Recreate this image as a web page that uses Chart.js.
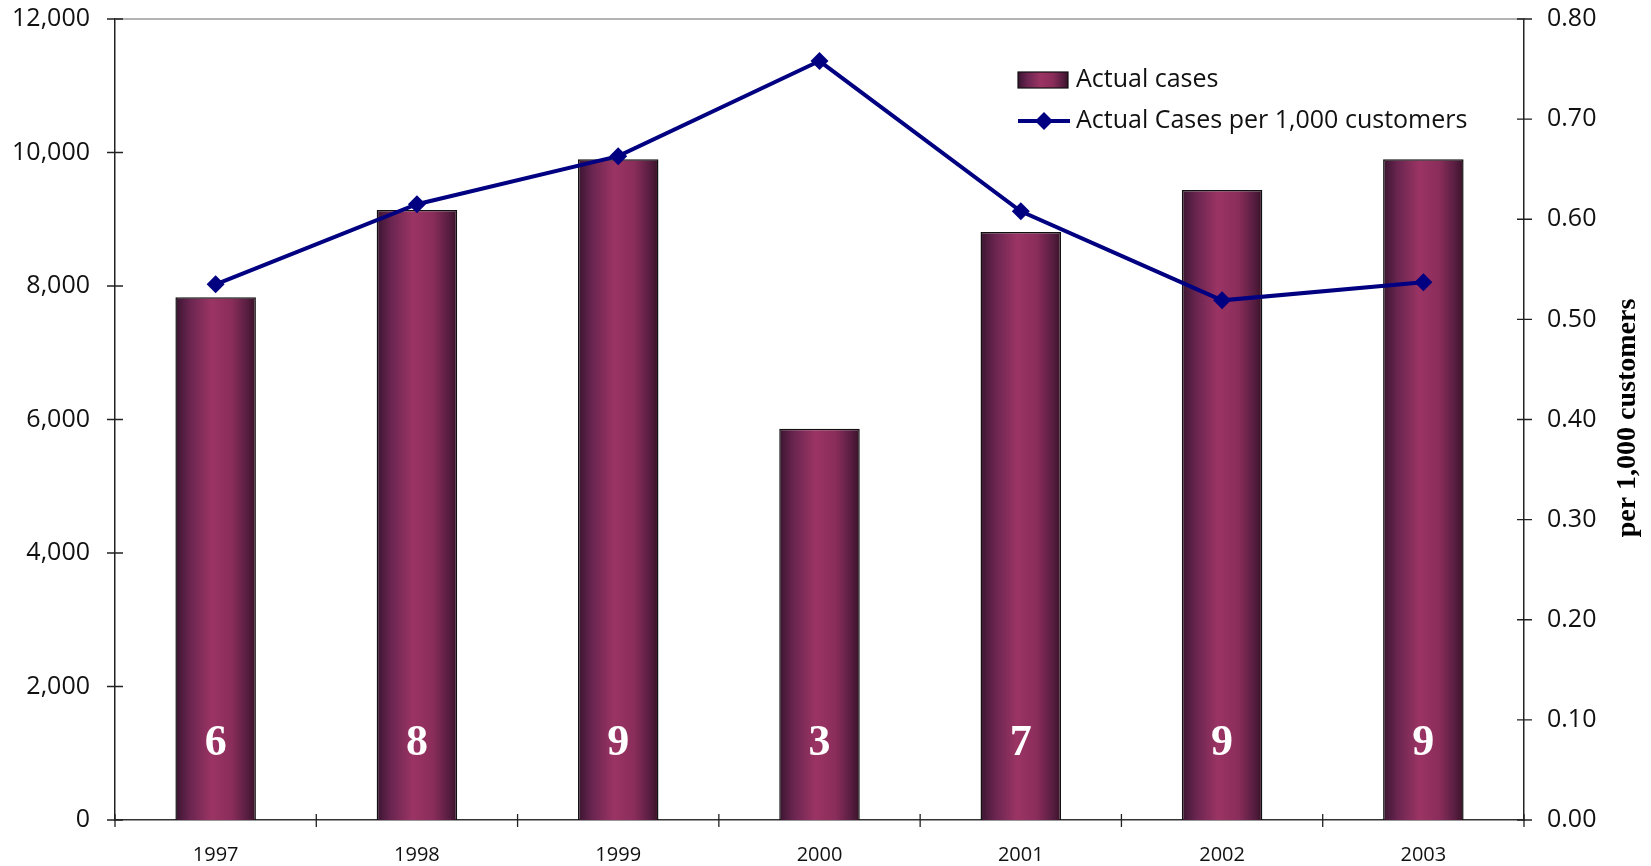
<!DOCTYPE html>
<html>
<head>
<meta charset="utf-8">
<style>
  html, body { margin: 0; padding: 0; background: #ffffff; }
  #wrap { position: relative; width: 1651px; height: 866px; }
  canvas { display: block; }
</style>
<script src="https://cdn.jsdelivr.net/npm/chart.js@4.4.0/dist/chart.umd.min.js"></script>
</head>
<body>
<div id="wrap"><canvas id="c" width="1651" height="866"></canvas></div>
<script>
const years = ['1997', '1998', '1999', '2000', '2001', '2002', '2003'];
const actualCases = [7830, 9140, 9900, 5860, 8810, 9440, 9900];
const casesPer1000 = [0.535, 0.615, 0.663, 0.758, 0.608, 0.519, 0.537];
const barLabels = ['6', '8', '9', '3', '7', '9', '9'];
const leftTicks = [0, 2000, 4000, 6000, 8000, 10000, 12000];
const rightTicks = [0, 0.1, 0.2, 0.3, 0.4, 0.5, 0.6, 0.7, 0.8];
const legendLabels = ['Actual cases', 'Actual Cases per 1,000 customers'];
const rightTitle = 'per 1,000 customers';

const SANS = '"Open Sans", "Noto Sans", sans-serif';
const SERIF = '"Liberation Serif", "DejaVu Serif", serif';
const BAR_PCT = 0.4;

function barGradient(ctx, x0, x1) {
  const g = ctx.createLinearGradient(x0, 0, x1, 0);
  g.addColorStop(0, '#3a1430');
  g.addColorStop(0.18, '#6a2550');
  g.addColorStop(0.45, '#9b3464');
  g.addColorStop(0.7, '#8a2d5a');
  g.addColorStop(0.9, '#561d40');
  g.addColorStop(1, '#381226');
  return g;
}

const decor = {
  id: 'decor',
  beforeDatasetsDraw(chart) {
    const ctx = chart.ctx, a = chart.chartArea;
    ctx.save();
    ctx.strokeStyle = '#9a9a9a';
    ctx.lineWidth = 1.5;
    ctx.beginPath();
    ctx.moveTo(a.left, a.top);
    ctx.lineTo(a.right, a.top);
    ctx.stroke();
    ctx.restore();
  },
  afterDatasetsDraw(chart) {
    const ctx = chart.ctx, a = chart.chartArea;
    const yl = chart.scales.y, yr = chart.scales.y2;
    ctx.save();
    ctx.strokeStyle = '#222';
    ctx.lineWidth = 1.3;
    ctx.beginPath();
    leftTicks.forEach(v => {
      const y = yl.getPixelForValue(v);
      ctx.moveTo(a.left - 8, y); ctx.lineTo(a.left + 8, y);
    });
    rightTicks.forEach(v => {
      const y = yr.getPixelForValue(v);
      ctx.moveTo(a.right - 7, y); ctx.lineTo(a.right + 8, y);
    });
    const cw = (a.right - a.left) / years.length;
    for (let i = 0; i <= years.length; i++) {
      const x = a.left + i * cw;
      ctx.moveTo(x, a.bottom - 6); ctx.lineTo(x, a.bottom + 7);
    }
    ctx.stroke();

    ctx.fillStyle = '#ffffff';
    ctx.font = 'bold 44px ' + SERIF;
    ctx.textAlign = 'center';
    ctx.textBaseline = 'middle';
    const meta = chart.getDatasetMeta(0);
    meta.data.forEach((bar, i) => {
      ctx.fillText(barLabels[i], bar.x, 744);
    });

    const lx = 1018, ly1 = 80, ly2 = 121;
    ctx.fillStyle = barGradient(ctx, lx, lx + 50);
    ctx.fillRect(lx, ly1 - 8, 50, 16);
    ctx.strokeStyle = '#111';
    ctx.lineWidth = 1.2;
    ctx.strokeRect(lx, ly1 - 8, 50, 16);
    ctx.strokeStyle = '#000080';
    ctx.lineWidth = 4;
    ctx.beginPath();
    ctx.moveTo(lx, ly2); ctx.lineTo(lx + 52, ly2);
    ctx.stroke();
    ctx.fillStyle = '#000080';
    ctx.beginPath();
    ctx.moveTo(lx + 26, ly2 - 9); ctx.lineTo(lx + 35, ly2);
    ctx.lineTo(lx + 26, ly2 + 9); ctx.lineTo(lx + 17, ly2);
    ctx.closePath(); ctx.fill();
    ctx.fillStyle = '#111';
    ctx.font = '25px ' + SANS;
    ctx.textAlign = 'left';
    ctx.textBaseline = 'middle';
    ctx.fillText(legendLabels[0], 1076, ly1);
    ctx.fillText(legendLabels[1], 1076, ly2);

    ctx.save();
    ctx.translate(1628, 418);
    ctx.rotate(-Math.PI / 2);
    ctx.font = 'bold 28px ' + SERIF;
    ctx.textAlign = 'center';
    ctx.textBaseline = 'middle';
    ctx.fillStyle = '#000';
    ctx.fillText(rightTitle, 0, 0);
    ctx.restore();
    ctx.restore();
  }
};

const chart = new Chart(document.getElementById('c'), {
  data: {
    labels: years,
    datasets: [
      {
        type: 'line',
        label: legendLabels[1],
        data: casesPer1000,
        yAxisID: 'y2',
        borderColor: '#000080',
        backgroundColor: '#000080',
        borderWidth: 4,
        pointStyle: 'rectRot',
        pointRadius: 9,
        pointHoverRadius: 9,
        pointBorderWidth: 0,
        tension: 0,
        order: 0
      },
      {
        type: 'bar',
        label: legendLabels[0],
        data: actualCases,
        yAxisID: 'y',
        categoryPercentage: 1,
        barPercentage: BAR_PCT,
        borderColor: '#111',
        borderWidth: { top: 1.5, left: 1.5, right: 1.5, bottom: 0 },
        borderSkipped: false,
        backgroundColor(context) {
          const ch = context.chart;
          const xs = ch.scales.x;
          if (!xs || !ch.chartArea) return '#8a2d5a';
          const cx = xs.getPixelForValue(context.dataIndex);
          const w = (ch.chartArea.right - ch.chartArea.left) / years.length * BAR_PCT;
          return barGradient(ch.ctx, cx - w / 2, cx + w / 2);
        },
        order: 1
      }
    ]
  },
  options: {
    responsive: false,
    animation: false,
    events: [],
    layout: { padding: { top: 19, left: 0, right: 0, bottom: 0 } },
    plugins: { legend: { display: false }, tooltip: { enabled: false } },
    scales: {
      x: {
        type: 'category',
        offset: true,
        grid: { display: false, drawTicks: false },
        border: { display: true, color: '#333', width: 1.5 },
        ticks: { color: '#111', font: { family: SANS, size: 20 }, padding: 23, maxRotation: 0 },
        afterFit(s) { s.height = 46; s.paddingLeft = 0; s.paddingRight = 0; }
      },
      y: {
        position: 'left',
        min: 0, max: 12000,
        grid: { display: false, drawTicks: false },
        border: { display: true, color: '#222', width: 1.5 },
        ticks: {
          stepSize: 2000,
          color: '#111',
          font: { family: SANS, size: 25 },
          padding: 25,
          callback: v => v.toLocaleString('en-US')
        },
        afterFit(s) { s.width = 115; s.paddingTop = 0; s.paddingBottom = 0; }
      },
      y2: {
        position: 'right',
        min: 0, max: 0.8,
        grid: { display: false, drawTicks: false },
        border: { display: true, color: '#222', width: 1.5 },
        ticks: {
          stepSize: 0.1,
          color: '#111',
          font: { family: SANS, size: 25 },
          padding: 23,
          callback: v => v.toFixed(2)
        },
        afterFit(s) { s.width = 127; s.paddingTop = 0; s.paddingBottom = 0; }
      }
    }
  },
  plugins: [decor]
});
</script>
</body>
</html>
